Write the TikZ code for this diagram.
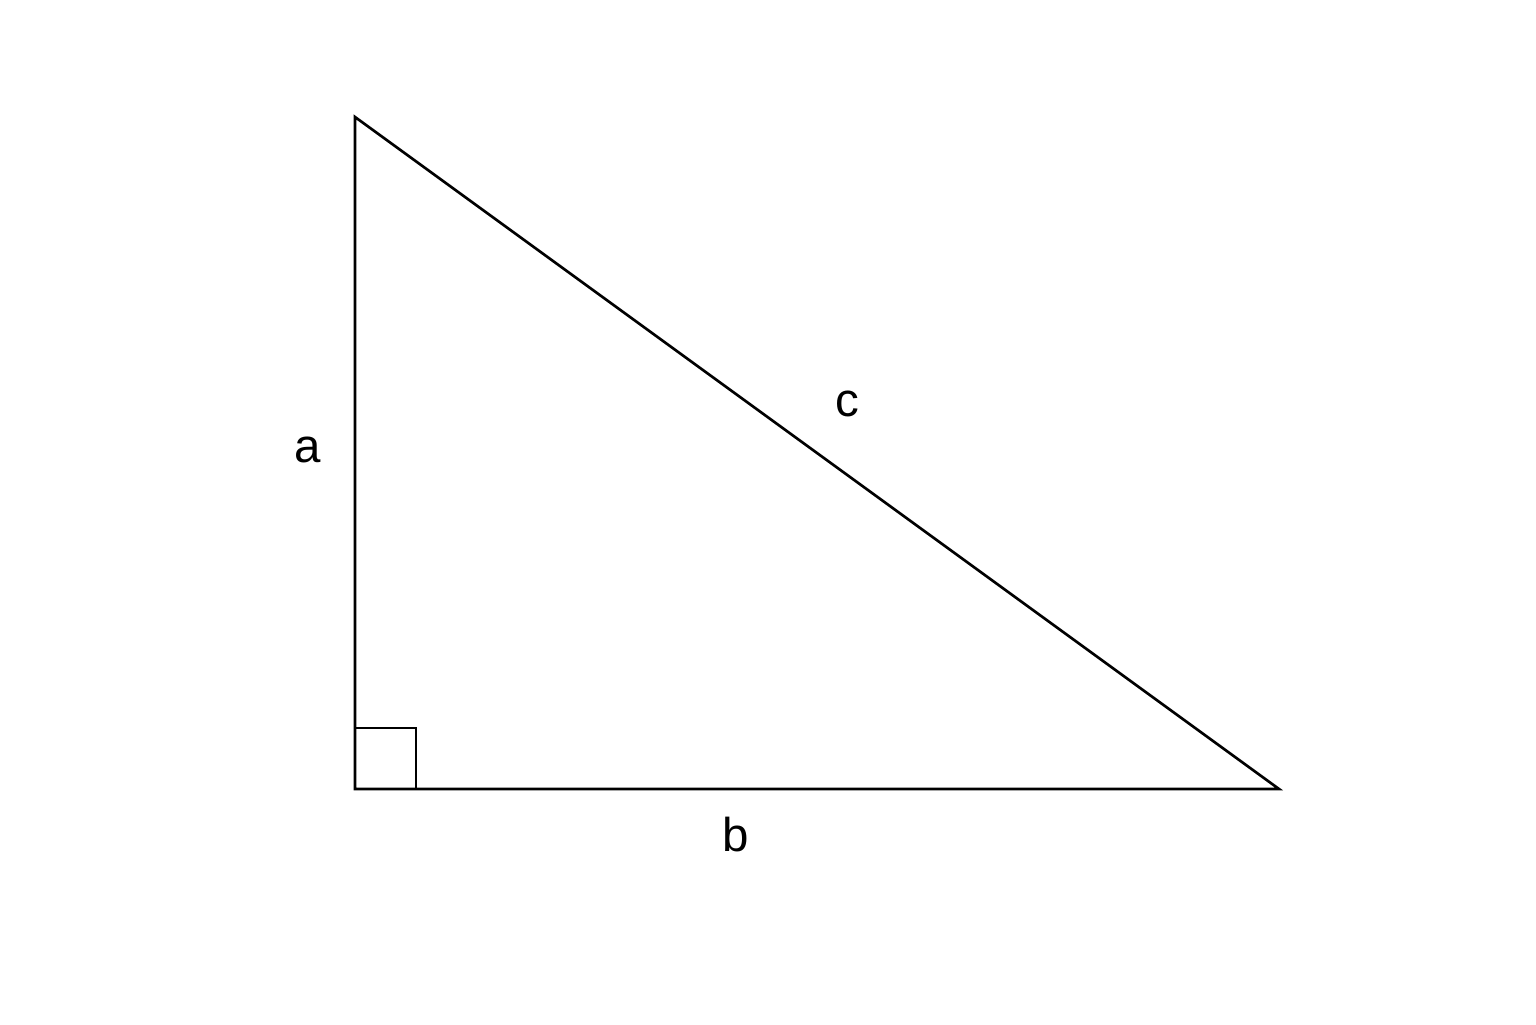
\documentclass[tikz,border=0pt]{standalone}
\usepackage{fontspec}
\setmainfont{Liberation Sans}
\usepackage{tikz}
\usetikzlibrary{positioning, calc}

\tikzset{
    side/.style={line width=0.75pt, black},
    sidelabel/.style={font=\fontsize{13.5}{16}\selectfont}
}

\begin{document}
\begin{tikzpicture}
    \useasboundingbox (0,0) rectangle (15.36,10.24);

    % Vertices
    \coordinate (top) at (3.55,9.07);
    \coordinate (corner) at (3.55,2.35);
    \coordinate (right) at (12.79,2.35);

    % Triangle
    \draw[side, line join=miter] (top) -- (corner) -- (right) -- cycle;

    % Right angle mark
    \draw[side] ($(corner)+(0,0.61)$) -- ++(0.61,0) -- ++(0,-0.61);

    % Side labels
    \node[sidelabel] (la) at (3.08,5.74) {a};
    \node[sidelabel] (lb) at (7.36,1.89) {b};
    \node[sidelabel] (lc) at (8.47,6.20) {c};
\end{tikzpicture}
\end{document}
